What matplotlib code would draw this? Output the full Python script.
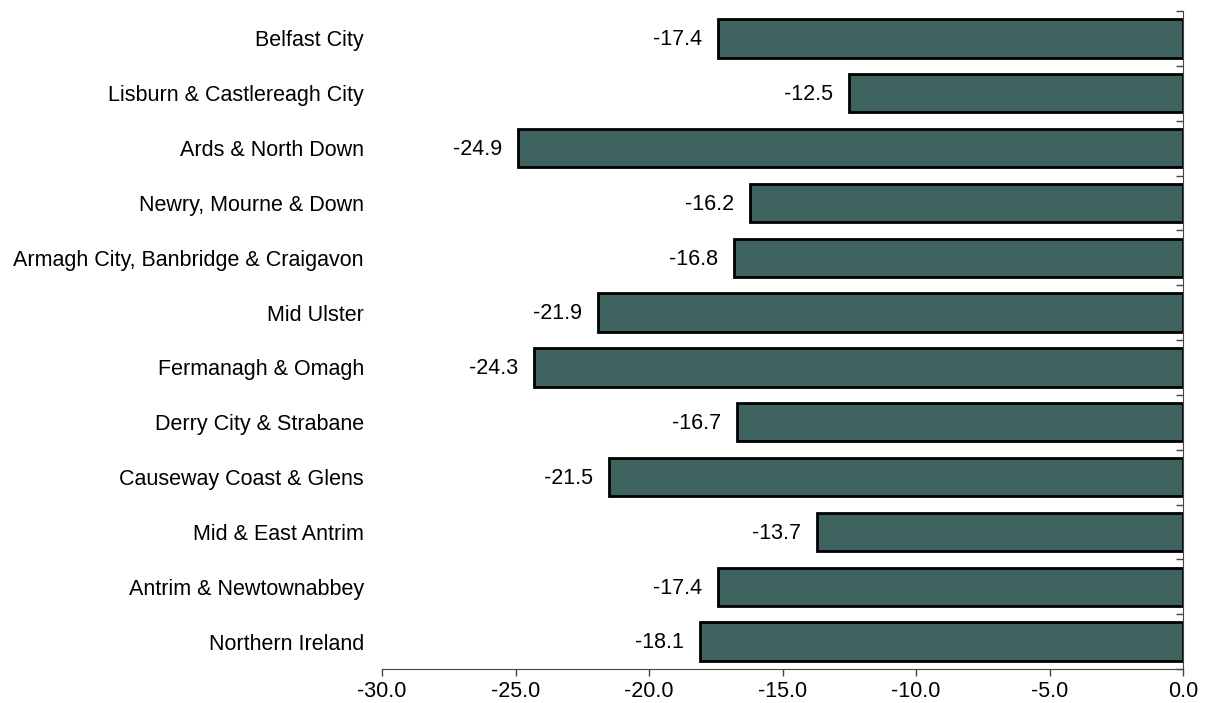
import matplotlib
matplotlib.use("Agg")
import matplotlib.pyplot as plt
import numpy as np

categories = ["Belfast City", "Lisburn & Castlereagh City", "Ards & North Down",
              "Newry, Mourne & Down", "Armagh City, Banbridge & Craigavon",
              "Mid Ulster", "Fermanagh & Omagh", "Derry City & Strabane",
              "Causeway Coast & Glens", "Mid & East Antrim",
              "Antrim & Newtownabbey", "Northern Ireland"]
values = [-17.4, -12.5, -24.9, -16.2, -16.8, -21.9, -24.3, -16.7, -21.5, -13.7, -17.4, -18.1]
xticks = [-30.0, -25.0, -20.0, -15.0, -10.0, -5.0, 0.0]

plt.rcParams['font.family'] = ['Liberation Sans', 'DejaVu Sans']
FS = 15.5

fig = plt.figure(figsize=(12.05, 7.03), dpi=100)
ax = fig.add_axes([382/1205, 1 - 669/703, (1183 - 382)/1205, (669 - 11)/703])

n = len(categories)
y = np.arange(n)
ax.barh(y, values, height=0.7, color="#3F6460", edgecolor="black", linewidth=2, zorder=2)

ax.set_xlim(-30, 0)
ax.set_ylim(n - 0.5, -0.5)

for yi, v in zip(y, values):
    ax.annotate(f"{v:.1f}", (v, yi), xytext=(-11.5, -1), textcoords="offset points",
                ha="right", va="center", fontsize=FS)

ax.set_xticks(xticks)
ax.set_xticklabels([f"{t:.1f}" for t in xticks], fontsize=FS)
ax.tick_params(axis="x", direction="out", length=5, width=1, color="#444444", pad=3.5)

ax.set_yticks(y)
ax.set_yticklabels(categories, fontsize=FS)
ax.tick_params(axis="y", which="major", length=0, pad=13)
ax.set_yticks(np.arange(-0.5, n + 0.5, 1), minor=True)
ax.yaxis.set_tick_params(which="minor", left=False, right=True, direction="in", length=5, width=1, color="#444444")

ax.spines["top"].set_visible(False)
ax.spines["left"].set_visible(False)
ax.spines["right"].set_visible(True)
ax.spines["right"].set_color("#444444")
ax.spines["bottom"].set_color("#444444")

fig.savefig("out.png", dpi=100)
